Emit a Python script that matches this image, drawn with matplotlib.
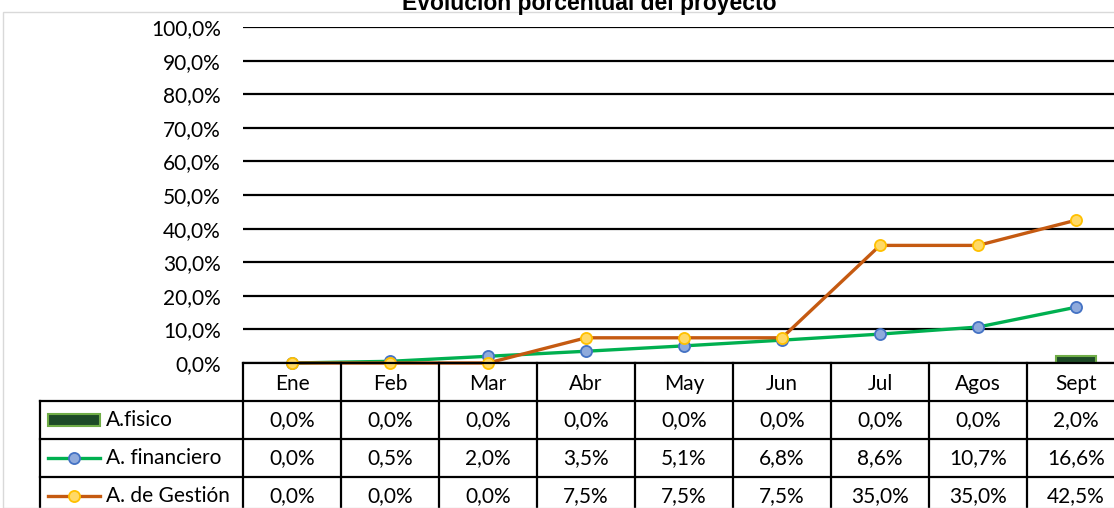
import matplotlib
matplotlib.use('Agg')
import matplotlib.pyplot as plt
from matplotlib.patches import Rectangle
from matplotlib.lines import Line2D

plt.rcParams['font.family'] = ['Lato', 'DejaVu Sans']

meses = ['Ene', 'Feb', 'Mar', 'Abr', 'May', 'Jun', 'Jul', 'Agos', 'Sept']
fisico = [0.0, 0.0, 0.0, 0.0, 0.0, 0.0, 0.0, 0.0, 2.0]
financiero = [0.0, 0.5, 2.0, 3.5, 5.1, 6.8, 8.6, 10.7, 16.6]
gestion = [0.0, 0.0, 0.0, 7.5, 7.5, 7.5, 35.0, 35.0, 42.5]
series = ['A.fisico', 'A. financiero', 'A. de Gestión']

W, H = 1114, 508
FS = 15
fig = plt.figure(figsize=(W / 100, H / 100), dpi=100)

# chart border
fig.patches.append(Rectangle((3 / W, 0), 1.2, (H - 12) / H, transform=fig.transFigure,
                             fill=False, edgecolor='#d9d9d9', lw=1))
fig.text(589 / W, (H - 10) / H, 'Evolución porcentual del proyecto', ha='center', va='baseline',
         fontsize=16.5, fontweight='bold', family=['Liberation Sans', 'DejaVu Sans'])

col = 98.0
ax = fig.add_axes([243 / W, 145 / H, 9 * col / W, 336 / H])
x = list(range(len(meses)))
ax.set_xlim(-0.5, 8.5)
ax.set_ylim(0, 100)
ax.set_yticks(range(0, 101, 10))
ax.set_yticklabels([f'{v:.1f}%'.replace('.', ',') for v in range(0, 101, 10)], fontsize=FS)
ax.tick_params(axis='y', length=0, pad=16)
ax.set_xticks([])
for s in ax.spines.values():
    s.set_visible(False)
for v in range(0, 101, 10):
    ax.axhline(v, color='black', lw=1.6, zorder=1)
ax.set_facecolor('none')

ax.bar(x, fisico, width=0.41, color='#1d4a27', edgecolor='#70ad47', lw=1.5, zorder=2)
ax.plot(x, financiero, color='#00b050', lw=2.4, marker='o', ms=8,
        mfc='#8faadc', mec='#4472c4', mew=1.3, zorder=3, clip_on=False)
ax.plot(x, gestion, color='#c55a11', lw=2.4, marker='o', ms=8,
        mfc='#ffd966', mec='#ffc000', mew=1.3, zorder=4, clip_on=False)

# data table
left_px = 40
legw = (243 - left_px) / col
tx = fig.add_axes([left_px / W, (H - 515) / H, (1125 - left_px) / W, 152 / H])
tx.set_xlim(-0.5 - legw, 8.5)
tx.set_ylim(4, 0)
tx.axis('off')

def px(p):
    return (p - left_px) / col - 0.5 - legw

kw = dict(color='black', lw=1.6, clip_on=False)
tx.plot([-0.5, 8.5], [0, 0], **kw)
for r in range(1, 5):
    tx.plot([-0.5 - legw, 8.5], [r, r], **kw)
for i in range(len(meses) + 1):
    tx.plot([i - 0.5, i - 0.5], [0, 4], **kw)
tx.plot([-0.5 - legw] * 2, [1, 4], **kw)

for i, m in enumerate(meses):
    tx.text(i, 0.55, m, ha='center', va='center', fontsize=FS)
for r, vals in enumerate([fisico, financiero, gestion], start=1):
    for i, v in enumerate(vals):
        tx.text(i, r + 0.5, f'{v:.1f}%'.replace('.', ','), ha='center', va='center', fontsize=FS)
    tx.text(px(106), r + 0.5, series[r - 1], ha='left', va='center', fontsize=FS)

# legend keys
tx.add_patch(Rectangle((px(48), 1.5 - 0.16), px(100) - px(48), 0.32,
                       facecolor='#1d4a27', edgecolor='#70ad47', lw=1.5))
tx.add_line(Line2D([px(48), px(74), px(100)], [2.5, 2.5, 2.5], color='#00b050', lw=2.4,
                   marker='o', markevery=[1], ms=8, mfc='#8faadc', mec='#4472c4', mew=1.3))
tx.add_line(Line2D([px(48), px(74), px(100)], [3.5, 3.5, 3.5], color='#c55a11', lw=2.4,
                   marker='o', markevery=[1], ms=8, mfc='#ffd966', mec='#ffc000', mew=1.3))

fig.savefig('out.png', dpi=100)
